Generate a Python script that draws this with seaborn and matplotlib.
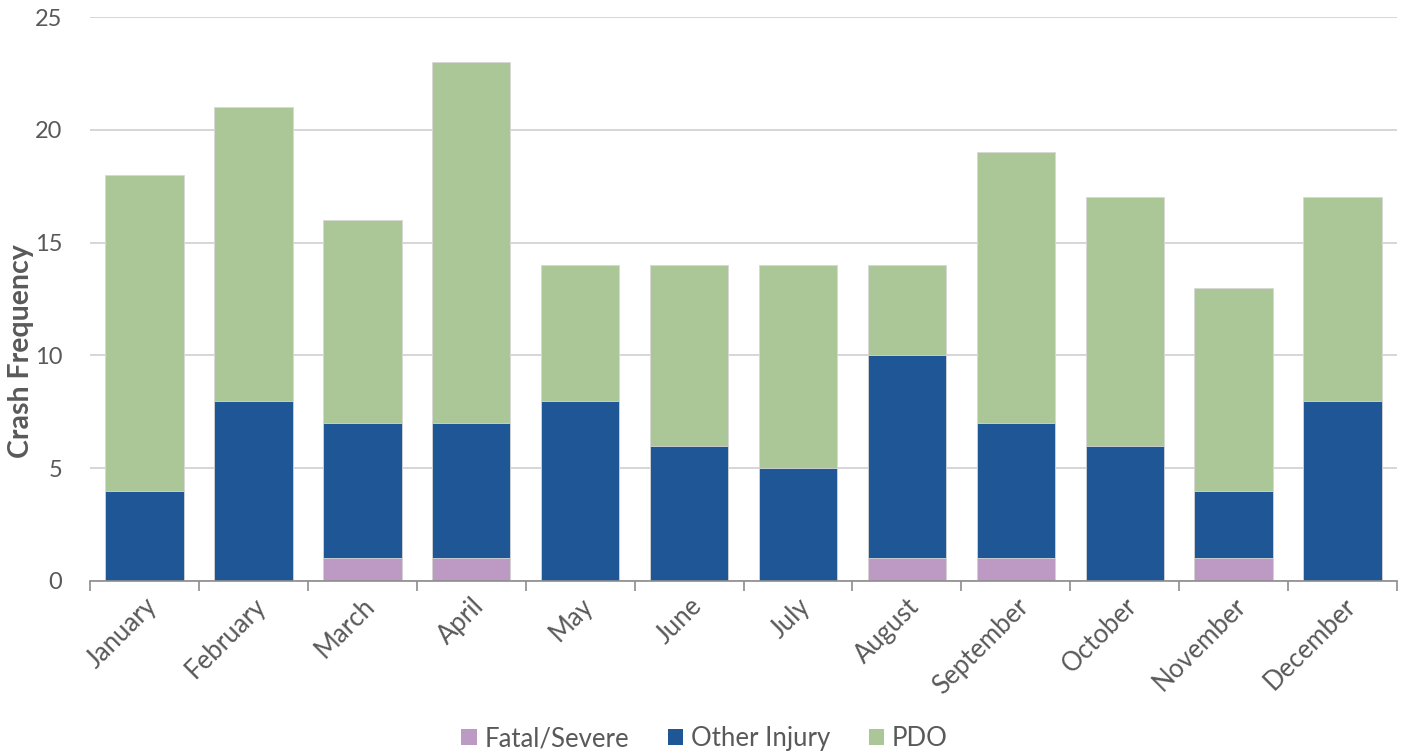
import matplotlib
matplotlib.use("Agg")
import matplotlib.pyplot as plt
from matplotlib.patches import Patch
from matplotlib.ticker import FixedLocator
import numpy as np
import pandas as pd
import seaborn as sns

months = ["January", "February", "March", "April", "May", "June",
          "July", "August", "September", "October", "November", "December"]
fatal_severe = [0, 0, 1, 1, 0, 0, 0, 1, 1, 0, 1, 0]
other_injury = [4, 8, 6, 6, 8, 6, 5, 9, 6, 6, 3, 8]
pdo = [14, 13, 9, 16, 6, 8, 9, 4, 12, 11, 9, 9]

series_names = ["Fatal/Severe", "Other Injury", "PDO"]
colors = ["#BC9AC4", "#1F5796", "#ABC797"]
text_color = "#595959"

sns.set_theme(style="white")
plt.rcParams["font.family"] = ["Lato", "DejaVu Sans"]

df = pd.DataFrame({
    "Month": months,
    "Fatal/Severe": fatal_severe,
    "Other Injury": other_injury,
    "PDO": pdo,
})
# cumulative heights for the stacked layers (drawn back to front)
df["cum_fs"] = df["Fatal/Severe"]
df["cum_oi"] = df["cum_fs"] + df["Other Injury"]
df["cum_pdo"] = df["cum_oi"] + df["PDO"]

fig = plt.figure(figsize=(14.09, 7.56), dpi=100)
ax = fig.add_axes([0.0639, 0.2315, 0.9276, 0.746])

for col, color in [("cum_pdo", colors[2]), ("cum_oi", colors[1]), ("cum_fs", colors[0])]:
    sns.barplot(data=df, x="Month", y=col, order=months, color=color,
                width=0.72, edgecolor="#d8d8d8", linewidth=0.6,
                saturation=1, ax=ax, zorder=2)

ax.set_xlim(-0.5, len(months) - 0.5)
ax.set_ylim(0, 25)
ax.set_yticks([0, 5, 10, 15, 20, 25])
ax.yaxis.grid(True, color="#d0d0d0", linewidth=1.2, zorder=0)
ax.set_axisbelow(True)

for side in ["top", "right", "left"]:
    ax.spines[side].set_visible(False)
ax.spines["bottom"].set_color("#8c8c8c")
ax.spines["bottom"].set_linewidth(1.2)
ax.spines["bottom"].set_zorder(3)

ax.tick_params(axis="y", length=0, labelsize=17, labelcolor=text_color, pad=20)
ax.tick_params(axis="x", which="major", length=0, labelsize=18.5,
               labelcolor=text_color, pad=9)
ax.xaxis.set_minor_locator(FixedLocator(np.arange(-0.5, len(months), 1.0)))
ax.tick_params(axis="x", which="minor", length=7, width=1.2, color="#8c8c8c",
               direction="out", bottom=True)
for lbl in ax.get_xticklabels():
    lbl.set_rotation(45)
    lbl.set_ha("right")
    lbl.set_rotation_mode("anchor")

ax.set_xlabel("")
ax.set_ylabel("Crash Frequency", fontsize=20.5, fontweight="bold",
              color=text_color)
ax.yaxis.set_label_coords(-0.043, 0.408)

handles = [Patch(facecolor=c, edgecolor="none") for c in colors]
fig.legend(handles, series_names, loc="lower center", ncol=3, frameon=False,
           bbox_to_anchor=(0.5, -0.024), fontsize=18.5, labelcolor=text_color,
           handlelength=0.6, handleheight=0.6, handletextpad=0.3,
           columnspacing=1.5)

fig.savefig("out.png", dpi=100)
